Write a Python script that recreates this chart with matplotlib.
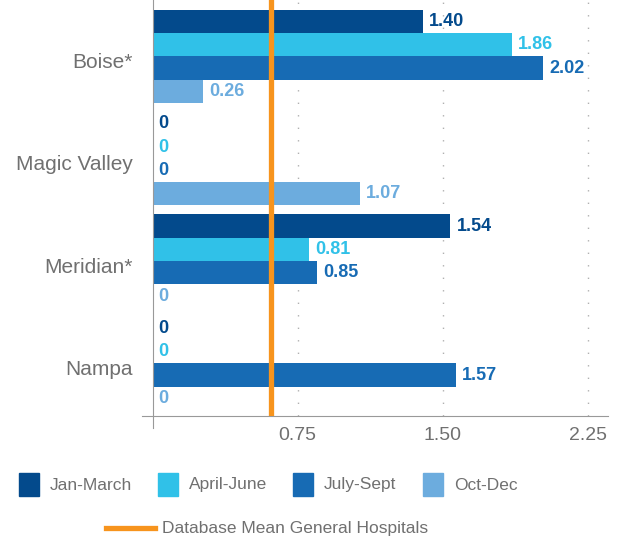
import matplotlib.pyplot as plt
import numpy as np
from matplotlib.patches import Rectangle
from matplotlib.lines import Line2D

plt.rcParams['font.family'] = ['Liberation Sans', 'DejaVu Sans']

# data
hospitals = ["Boise*", "Magic Valley", "Meridian*", "Nampa"]
quarters = ["Jan-March", "April-June", "July-Sept", "Oct-Dec"]
jan_march = [1.40, 0, 1.54, 0]
april_june = [1.86, 0, 0.81, 0]
july_sept = [2.02, 0, 0.85, 1.57]
oct_dec = [0.26, 1.07, 0, 0]
db_mean = 0.61
xticks = [0.75, 1.50, 2.25]

colors = ["#034a8c", "#30c1e8", "#176bb4", "#6cacde"]
orange = "#f7941d"
gray = "#707070"

W, H = 629, 540
fig = plt.figure(figsize=(W / 100, H / 100), dpi=100)
ax = fig.add_axes([142 / W, 1 - 416 / H, 466 / W, 416 / H])

series = [jan_march, april_june, july_sept, oct_dec]
y = np.arange(len(hospitals))
h = 0.228
for j, vals in enumerate(series):
    pos = y + (j - 1.5) * h
    ax.barh(pos, vals, height=h, color=colors[j], zorder=2)
    for p, v in zip(pos, vals):
        txt = "0" if v == 0 else "%.2f" % v
        ax.annotate(txt, (v, p), xytext=(6, 0), textcoords="offset pixels",
                    va="center", ha="left", color=colors[j],
                    fontsize=13, fontweight="bold")

ax.axvline(db_mean, color=orange, lw=3.8, zorder=3)

ax.set_xlim(-0.055, 2.355)
ax.set_ylim(3.514, -0.552)
ax.set_xticks(xticks)
ax.set_xticklabels(["%.2f" % t for t in xticks])
ax.set_yticks(y)
ax.set_yticklabels([])
ax.tick_params(length=0, labelcolor=gray)
ax.tick_params(axis="x", pad=8, labelsize=14)

# category labels, sitting a little below the group centre like the original
for yi, name in zip(y, hospitals):
    ax.annotate(name, xy=(0, yi), xycoords=("axes fraction", "data"),
                xytext=(-9, -4), textcoords="offset pixels",
                ha="right", va="center_baseline", color=gray, fontsize=15)

ax.grid(axis="x", linestyle=(0, (1, 8)), color="#b0b0b0", lw=1.0, zorder=0)
ax.set_axisbelow(True)

for s in ["top", "right"]:
    ax.spines[s].set_visible(False)
ax.spines["left"].set_position(("data", 0))
ax.spines["left"].set_bounds(3.63, -0.552)
ax.spines["left"].set_color("#999999")
ax.spines["bottom"].set_color("#999999")

# legend
sq_x = [19, 158, 293, 423]
tx_x = [50, 189, 324, 454]
for j, q in enumerate(quarters):
    fig.add_artist(Rectangle((sq_x[j] / W, 1 - 496 / H), 20 / W, 23 / H,
                             color=colors[j], transform=fig.transFigure))
    fig.text(tx_x[j] / W, 1 - 485 / H, q, va="center", ha="left",
             color=gray, fontsize=12.5)
fig.add_artist(Line2D([106 / W, 155 / W], [1 - 528 / H, 1 - 528 / H],
                      color=orange, lw=3.8, transform=fig.transFigure))
fig.text(162 / W, 1 - 528 / H, "Database Mean General Hospitals",
         va="center", ha="left", color=gray, fontsize=12.5)

fig.savefig("out.png", dpi=100)
